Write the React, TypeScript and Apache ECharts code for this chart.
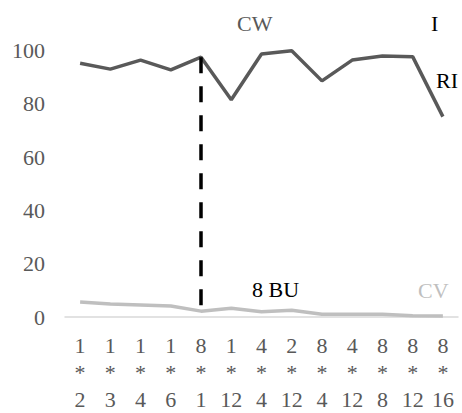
import React, { useEffect, useRef } from "react";
import * as echarts from "echarts";

const categories = ["1\n*\n2", "1\n*\n3", "1\n*\n4", "1\n*\n6", "8\n*\n1", "1\n*\n12", "4\n*\n4", "2\n*\n12", "8\n*\n4", "4\n*\n12", "8\n*\n8", "8\n*\n12", "8\n*\n16"];
const cwValues = [95.2, 93.0, 96.4, 92.7, 97.5, 81.5, 98.7, 99.9, 88.6, 96.4, 97.9, 97.7, 75.2];
const cvValues = [5.6, 4.9, 4.5, 4.1, 2.2, 3.3, 2.0, 2.5, 1.0, 1.0, 1.0, 0.5, 0.4];
const markIndex = 4;

const FONT = '"Liberation Serif", "Times New Roman", serif';
const FS = 22;

export default function App() {
  const ref = useRef<HTMLDivElement>(null);
  useEffect(() => {
    document.body.style.margin = "0";
    if (!ref.current) return;
    const chart = echarts.init(ref.current, null, { renderer: "svg" });
    const txt = (text: string, x: number, y: number, fill: string) => ({
      type: "text",
      x,
      y,
      style: { text, fill, font: `${FS}px ${FONT}`, align: "left", verticalAlign: "middle" },
    });
    chart.setOption({
      animation: false,
      backgroundColor: "#ffffff",
      grid: { left: 65, right: 4, top: 50.5, bottom: 95.3, containLabel: false },
      xAxis: {
        type: "category",
        data: categories,
        boundaryGap: true,
        axisLine: { show: true, lineStyle: { color: "#d9d9d9", width: 1.5 } },
        axisTick: { show: false },
        axisLabel: {
          interval: 0,
          color: "#595959",
          fontFamily: FONT,
          fontSize: FS,
          lineHeight: 27,
          margin: 15,
        },
        splitLine: { show: false },
      },
      yAxis: {
        type: "value",
        min: 0,
        max: 100,
        interval: 20,
        axisLine: { show: false },
        axisTick: { show: false },
        splitLine: { show: false },
        axisLabel: { color: "#595959", fontFamily: FONT, fontSize: FS, margin: 20 },
      },
      series: [
        {
          name: "CW",
          type: "line",
          data: cwValues,
          symbol: "none",
          clip: false,
          lineStyle: { color: "#595959", width: 3.5 },
          markLine: {
            symbol: "none",
            silent: true,
            label: { show: false },
            lineStyle: { color: "#000000", width: 3.5, type: [16, 13] },
            data: [
              [
                { coord: [markIndex, cwValues[markIndex]] },
                { coord: [markIndex, cvValues[markIndex]] },
              ],
            ],
          },
        },
        {
          name: "CV",
          type: "line",
          data: cvValues,
          symbol: "none",
          clip: false,
          lineStyle: { color: "#bfbfbf", width: 3.5 },
        },
      ],
      graphic: [
        txt("CW", 237, 23.5, "#595959"),
        txt("I", 431, 23, "#000000"),
        txt("RI", 436, 80.5, "#000000"),
        txt("8 BU", 252, 289, "#000000"),
        txt("CV", 418, 290.5, "#bfbfbf"),
      ],
    });
    return () => chart.dispose();
  }, []);
  return <div ref={ref} style={{ width: 462, height: 413 }} />;
}
